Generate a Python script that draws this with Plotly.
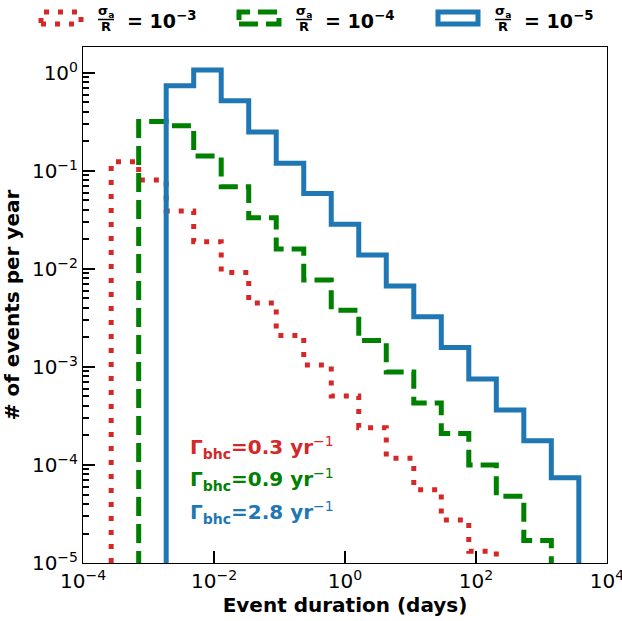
import plotly.graph_objects as go

# ---- data ----
# log10 of bin edges (days), common grid
edges_log = [-3.57, -3.15, -2.73, -2.31, -1.89, -1.47, -1.05, -0.63, -0.21,
             0.21, 0.63, 1.05, 1.47, 1.89, 2.31, 2.73, 3.15, 3.57]

# red: sigma_a/R = 1e-3, starts at edge 0, 14 bins
red_start = 0
red_vals = [0.124, 0.081, 0.039, 0.019, 0.0092, 0.0045, 0.0021, 0.00105,
            5.06e-4, 2.4e-4, 1.17e-4, 5.6e-5, 2.75e-5, 1.32e-5]
# green: sigma_a/R = 1e-4, starts at edge 1, 15 bins
green_start = 1
green_vals = [0.32, 0.29, 0.142, 0.069, 0.0334, 0.016, 0.0077, 0.0038,
              0.00186, 8.9e-4, 4.3e-4, 2.1e-4, 1.0e-4, 4.8e-5, 1.7e-5]
# blue: sigma_a/R = 1e-5, starts at edge 2, 15 bins
blue_start = 2
blue_vals = [0.74, 1.07, 0.52, 0.25, 0.12, 0.059, 0.0286, 0.0139, 0.0067,
             0.00326, 0.00158, 7.55e-4, 3.63e-4, 1.77e-4, 7.4e-5]

legend_exps = ["−3", "−4", "−5"]
rates = ["0.3", "0.9", "2.8"]
colors = ["#d62728", "#008000", "#1f77b4"]
dashes = ["5px,9px", "19px,8px", "solid"]

x_tickvals = [1e-4, 1e-2, 1e0, 1e2, 1e4]
x_ticktext = ["10<sup>−4</sup>", "10<sup>−2</sup>", "10<sup>0</sup>", "10<sup>2</sup>", "10<sup>4</sup>"]
y_tickvals = [1e-5, 1e-4, 1e-3, 1e-2, 1e-1, 1e0]
y_ticktext = ["10<sup>−5</sup>", "10<sup>−4</sup>", "10<sup>−3</sup>", "10<sup>−2</sup>", "10<sup>−1</sup>", "10<sup>0</sup>"]

FONT = "DejaVu Sans"
W, H = 622, 621
L, R, T, B = 83, 15, 47, 58
PW, PH = W - L - R, H - T - B


def px(x):
    return (x - L) / PW


def py(y):
    return (H - B - y) / PH


def step_xy(start, vals):
    e = [10 ** v for v in edges_log[start:start + len(vals) + 1]]
    floor = 1e-7
    # hv path: (e0,floor)->(e0,v0)->...->(en,v_last)->(en,floor)
    xs = [e[0], e[0]] + e[1:] + [e[-1]]
    ys = [floor] + list(vals) + [vals[-1], floor]
    return xs, ys


fig = go.Figure()
for start, vals, c, d in [(red_start, red_vals, colors[0], dashes[0]),
                          (green_start, green_vals, colors[1], dashes[1]),
                          (blue_start, blue_vals, colors[2], dashes[2])]:
    xs, ys = step_xy(start, vals)
    fig.add_trace(go.Scatter(x=xs, y=ys, mode="lines", line_shape="hv",
                             line=dict(color=c, width=5, dash=d),
                             showlegend=False, hoverinfo="skip"))

minor_y = [m * 10 ** k for k in range(-5, 1) for m in range(2, 10)]

fig.update_layout(
    width=W, height=H,
    margin=dict(l=L, r=R, t=T, b=B, autoexpand=False),
    paper_bgcolor="white", plot_bgcolor="white",
    font=dict(family=FONT, color="black"),
    showlegend=False,
    xaxis=dict(type="log", range=[-4, 4], showgrid=False, zeroline=False,
               showline=True, linecolor="black", linewidth=1, mirror=True,
               ticks="inside", ticklen=12, tickwidth=2, tickcolor="black",
               tickvals=x_tickvals, ticktext=x_ticktext,
               ticklabeloverflow="allow",
               tickfont=dict(size=20, family=FONT),
               title=dict(text="<b>Event duration (days)</b>",
                          font=dict(size=20, family=FONT), standoff=2)),
    yaxis=dict(type="log", range=[-5, 0.265], showgrid=False, zeroline=False,
               showline=True, linecolor="black", linewidth=1, mirror=True,
               ticks="inside", ticklen=12, tickwidth=2, tickcolor="black",
               tickvals=y_tickvals, ticktext=y_ticktext,
               ticklabeloverflow="allow",
               tickfont=dict(size=20, family=FONT),
               minor=dict(ticks="inside", ticklen=6, tickwidth=1.5,
                          tickcolor="black", tickvals=minor_y, showgrid=False),
               title=dict(text="<b># of events per year</b>",
                          font=dict(size=20, family=FONT), standoff=8)),
)

# ---- custom legend above the plot ----
icon_x0 = [39, 237, 436]
for i in range(3):
    x0 = icon_x0[i]
    fig.add_shape(type="rect", xref="paper", yref="paper",
                  x0=px(x0 + 2), x1=px(x0 + 42), y0=py(24), y1=py(12),
                  line=dict(color=colors[i], width=5, dash=dashes[i]),
                  fillcolor="rgba(0,0,0,0)")
    fx = x0 + 67
    fig.add_annotation(xref="paper", yref="paper", x=px(fx), y=py(11),
                       text="<b>σ<sub>a</sub></b>", showarrow=False,
                       font=dict(size=13, family=FONT, color="black"),
                       xanchor="center", yanchor="middle")
    fig.add_shape(type="line", xref="paper", yref="paper",
                  x0=px(fx - 8), x1=px(fx + 8), y0=py(19.5), y1=py(19.5),
                  line=dict(color="black", width=1.5))
    fig.add_annotation(xref="paper", yref="paper", x=px(fx), y=py(27),
                       text="<b>R</b>", showarrow=False,
                       font=dict(size=13, family=FONT, color="black"),
                       xanchor="center", yanchor="middle")
    fig.add_annotation(xref="paper", yref="paper", x=px(fx + 19), y=py(20),
                       text="<b>= 10<sup>" + legend_exps[i] + "</sup></b>",
                       showarrow=False,
                       font=dict(size=19, family=FONT, color="black"),
                       xanchor="left", yanchor="middle")

# ---- rate annotations ----
rate_y = [447, 480, 512]
for i in range(3):
    fig.add_annotation(xref="paper", yref="paper", x=px(188), y=py(rate_y[i]),
                       text="<b>Γ<sub>bhc</sub>=" + rates[i] + " yr</b><sup>−1</sup>",
                       showarrow=False,
                       font=dict(size=20, family=FONT, color=colors[i]),
                       xanchor="left", yanchor="middle")

fig.write_html("out.html", config={"displayModeBar": False},
               post_script="document.body.style.margin='0';document.body.style.overflow='hidden';")
